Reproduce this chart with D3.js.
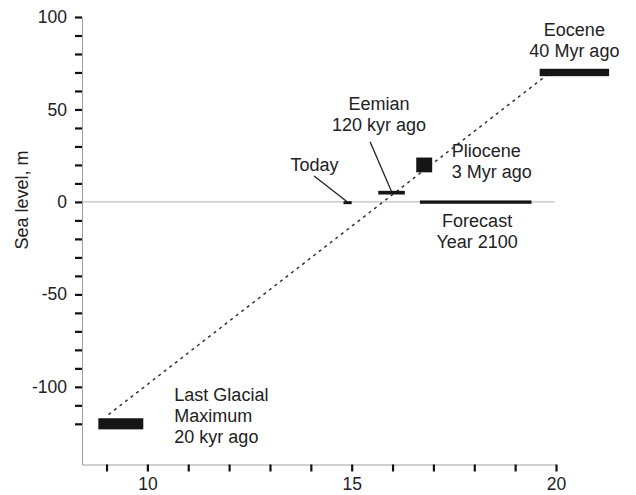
<!DOCTYPE html>
<html>
<head>
<meta charset="utf-8">
<script src="https://cdn.jsdelivr.net/npm/d3@7"></script>
<style>
  html, body { margin: 0; padding: 0; background: #fff; }
  svg { display: block; font-family: "Liberation Sans", Arial, Helvetica, sans-serif; }
</style>
</head>
<body>
<svg id="chart" width="636" height="495"></svg>
<script>
// Sea level (m) against global mean temperature for several climate states
const periods   = ["Last Glacial Maximum", "Today", "Eemian", "Pliocene", "Eocene", "Forecast"];
const tempLo    = [8.8, 14.8, 15.65, 16.58, 19.6, 16.67];
const tempHi    = [9.9, 15.0, 16.3, 16.97, 21.3, 19.4];
const levelLo   = [-123, -1.2, 4, 16, 68, -1];
const levelHi   = [-117, 0.4, 6, 24, 72, 0.8];

// Dashed trend through the points
const trendTemp  = [9.05, 19.8];
const trendLevel = [-115, 69];

// Axis ticks
const xTicks      = [9, 10, 11, 12, 13, 14, 15, 16, 17, 18, 19, 20];
const xTickLabels = [10, 15, 20];
const yTicks      = [100, 90, 80, 70, 60, 50, 40, 30, 20, 10, 0, -10, -20, -30, -40, -50, -60, -70, -80, -90, -100, -110, -120];
const yTickLabels = [100, 50, 0, -50, -100];

// Annotation texts (lines), anchored in data coordinates
const labelLines = [
  ["Last Glacial", "Maximum", "20 kyr ago"],
  ["Today"],
  ["Eemian", "120 kyr ago"],
  ["Pliocene", "3 Myr ago"],
  ["Eocene", "40 Myr ago"],
  ["Forecast", "Year 2100"]
];
const labelTemp   = [10.66, 14.09, 15.67, 17.45, 20.45, 18.07];
const labelLevel  = [-107.5, 16.9, 49.5, 24.3, 89.5, -13.7];
const labelAnchor = ["start", "middle", "middle", "start", "middle", "middle"];

// Leader lines from labels to marks
const leaderFromT = [14.08, 15.45];
const leaderFromL = [14.0, 32.5];
const leaderToT   = [14.92, 15.99];
const leaderToL   = [-0.4, 4.8];

const svg = d3.select("#chart");
const x = d3.scaleLinear().domain([8.4, 20]).range([82, 556]);
const y = d3.scaleLinear().domain([100, -142]).range([17, 464.5]);

const textColor = "#222";
const fontSize = 18;

// Zero line
svg.append("line")
  .attr("x1", x(8.4)).attr("x2", x(19.97))
  .attr("y1", y(0)).attr("y2", y(0))
  .attr("stroke", "#b0b0b0").attr("stroke-width", 1);

// Y axis
const yAxis = svg.append("g")
  .attr("transform", `translate(${x(8.4)},0)`)
  .call(d3.axisLeft(y).tickValues(yTicks).tickSize(7).tickSizeOuter(0).tickPadding(8)
    .tickFormat(d => yTickLabels.includes(d) ? d : ""));
yAxis.select(".domain").attr("stroke", "#a0a0a0").attr("stroke-width", 1);
yAxis.selectAll(".tick line").attr("stroke", "#111").attr("stroke-width", 2.2);
yAxis.selectAll(".tick text").attr("fill", textColor).attr("font-size", 17.5)
  .attr("font-family", "Liberation Sans, Arial, sans-serif");

// X axis
const xAxis = svg.append("g")
  .attr("transform", `translate(0,${y(-142)})`)
  .call(d3.axisBottom(x).tickValues(xTicks).tickSize(7).tickSizeOuter(0).tickPadding(6)
    .tickFormat(d => xTickLabels.includes(d) ? d : ""));
xAxis.select(".domain").attr("stroke", "#a0a0a0").attr("stroke-width", 1);
xAxis.selectAll(".tick line").attr("stroke", "#111").attr("stroke-width", 2.2);
xAxis.selectAll(".tick text").attr("fill", textColor).attr("font-size", 17.5)
  .attr("font-family", "Liberation Sans, Arial, sans-serif");

// Y axis title
svg.append("text")
  .attr("transform", `translate(28,${y(1)}) rotate(-90)`)
  .attr("text-anchor", "middle")
  .attr("fill", textColor)
  .attr("font-size", 18)
  .text("Sea level, m");

// Dashed trend line
svg.append("line")
  .attr("x1", x(trendTemp[0])).attr("y1", y(trendLevel[0]))
  .attr("x2", x(trendTemp[1])).attr("y2", y(trendLevel[1]))
  .attr("stroke", "#333").attr("stroke-width", 1.5)
  .attr("stroke-dasharray", "3,4");

// Period boxes
const boxes = periods.map((p, i) => ({ p, t0: tempLo[i], t1: tempHi[i], l0: levelLo[i], l1: levelHi[i] }));
svg.append("g").selectAll("rect").data(boxes).join("rect")
  .attr("x", d => x(d.t0))
  .attr("y", d => y(d.l1))
  .attr("width", d => x(d.t1) - x(d.t0))
  .attr("height", d => y(d.l0) - y(d.l1))
  .attr("fill", "#151515");

// Leader lines
svg.append("g").selectAll("line").data(leaderFromT).join("line")
  .attr("x1", (d, i) => x(d)).attr("y1", (d, i) => y(leaderFromL[i]))
  .attr("x2", (d, i) => x(leaderToT[i])).attr("y2", (d, i) => y(leaderToL[i]))
  .attr("stroke", "#222").attr("stroke-width", 1.3);

// Labels
const lineGap = 21;
labelLines.forEach((lines, i) => {
  const t = svg.append("text")
    .attr("x", x(labelTemp[i]))
    .attr("y", y(labelLevel[i]))
    .attr("text-anchor", labelAnchor[i])
    .attr("fill", textColor)
    .attr("font-size", fontSize);
  lines.forEach((s, j) => {
    t.append("tspan")
      .attr("x", x(labelTemp[i]))
      .attr("dy", j === 0 ? 0 : lineGap)
      .text(s);
  });
});
</script>
</body>
</html>
